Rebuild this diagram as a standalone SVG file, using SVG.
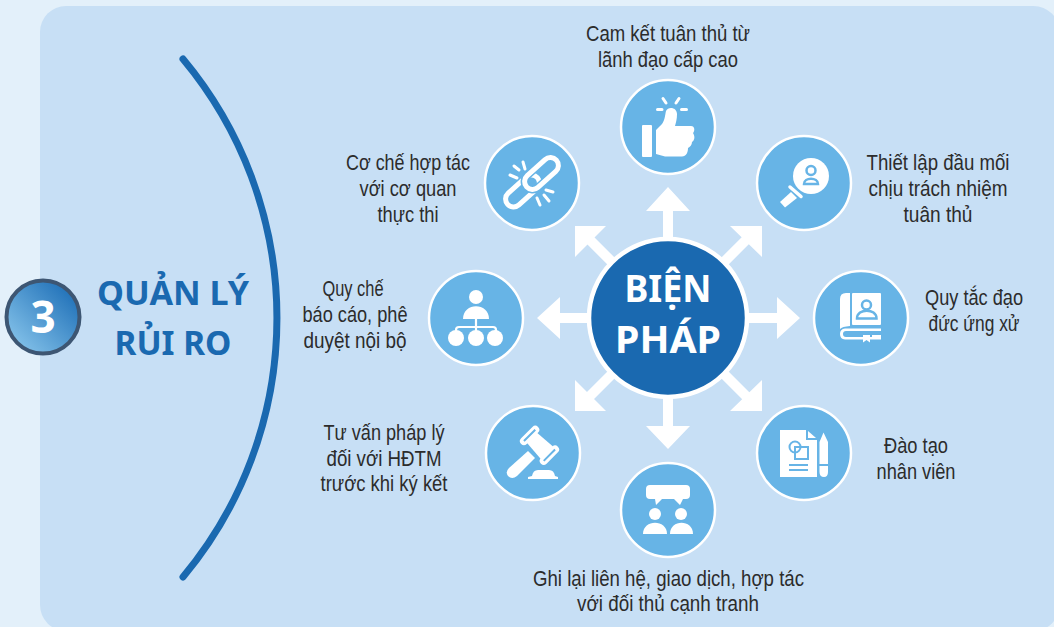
<svg xmlns="http://www.w3.org/2000/svg" width="1054" height="627" viewBox="0 0 1054 627">
<defs>
<linearGradient id="g3" x1="0" y1="1" x2="1" y2="0"><stop offset="0.1" stop-color="#85c3ea"/><stop offset="0.9" stop-color="#1e6fb7"/></linearGradient>
</defs>
<style>
.n{fill:#67b4e6;stroke:#fff;stroke-width:2.5}
.t{font-family:"Liberation Sans",sans-serif;font-size:21.500px;fill:#2c2c2c;text-anchor:middle}
.h{font-family:"Noto Sans","Open Sans",sans-serif;font-weight:700;text-anchor:middle}
.w{fill:#fff}
.ws{fill:none;stroke:#fff;stroke-linecap:round}
.bs{fill:none;stroke:#67b4e6}
.ar{fill:#fff}
.sh{stroke:#fff;stroke-width:10;fill:none}
</style>
<rect width="1054" height="627" fill="#e3f0fa"/>
<rect x="40" y="6" width="1019.500" height="625" rx="26" fill="#c7dff5"/>
<g id="title">
<path d="M183 59A404 404 0 0 1 183 577" fill="none" stroke="#1a69b0" stroke-width="7" stroke-linecap="round"/>
<circle cx="43" cy="317" r="36.500" fill="url(#g3)" stroke="#3d5673" stroke-width="4"/>
<text x="43" y="333" class="h" font-size="44" fill="#fff">3</text>
<text x="173" y="305" class="h" font-size="34" fill="#1a69b0" textLength="152" lengthAdjust="spacingAndGlyphs">QUẢN LÝ</text>
<text x="173" y="355" class="h" font-size="34" fill="#1a69b0" textLength="117" lengthAdjust="spacingAndGlyphs">RỦI RO</text>
</g>
<g id="connectors">
<path class="sh" d="M668 318V205M668 318V431M668 318H781M668 318H555M668 318L750 236M668 318L586 236M668 318L750 400M668 318L586 400"/>
<path class="ar" d="M668 187L690 211H646ZM668 449L690 426H646ZM800 318L777 297V339ZM537 318L560 297V339ZM762 226H730L762 257ZM575 226H606L575 257ZM762 411H730L762 380ZM575 411H606L575 380Z"/>
</g>
<g id="center">
<circle cx="668" cy="318" r="79" fill="#1a69b0" stroke="#fff" stroke-width="4.500"/>
<text x="668" y="302" class="h" font-size="38" fill="#fff" textLength="87" lengthAdjust="spacingAndGlyphs">BIỆN</text>
<text x="668" y="353" class="h" font-size="38" fill="#fff" textLength="106" lengthAdjust="spacingAndGlyphs">PHÁP</text>
</g>
<g id="node-top">
<circle class="n" cx="668" cy="127" r="47"/>
<rect class="w" x="642" y="125" width="10" height="32" rx="1"/>
<path class="w" d="M656 130L662 124C665 120 665 115 666 111C668 106 677 107 677 114C677 119 676 122 675 126L691 126C695 126 695 131 693 133C695 136 695 140 692 142C692 145 690 147 688 148C688 153 686 156 682 156.500L665 156.500L656 154Z"/>
<path class="ws" stroke-width="3" d="M663 98.500L666 103M679 98.500L676 103M657.500 109.500H662M681.500 109.500H686.500"/>
<text class="t" x="668" y="41" textLength="164" lengthAdjust="spacingAndGlyphs">Cam kết tuân thủ từ</text>
<text class="t" x="668" y="67" textLength="140" lengthAdjust="spacingAndGlyphs">lãnh đạo cấp cao</text>
</g>
<g id="node-top-right">
<circle class="n" cx="804" cy="183" r="47"/>
<circle class="w" cx="811" cy="176" r="18"/>
<circle class="bs" stroke-width="2.500" cx="811" cy="170.500" r="4.500"/>
<path class="bs" stroke-width="2.500" d="M804 184C804 177 818 177 818 184Z"/>
<path class="ws" stroke-width="3.500" d="M790 187L801 196.500"/>
<path class="w" d="M791 192L797 198L785 207.500L780 202Z"/>
<text class="t" x="938" y="170" textLength="143" lengthAdjust="spacingAndGlyphs">Thiết lập đầu mối</text>
<text class="t" x="938" y="196" textLength="139" lengthAdjust="spacingAndGlyphs">chịu trách nhiệm</text>
<text class="t" x="938" y="222" textLength="69" lengthAdjust="spacingAndGlyphs">tuân thủ</text>
</g>
<g id="node-right">
<circle class="n" cx="861" cy="318" r="47"/>
<path class="w" d="M850 293H846Q840 293 840 299V329Q842 326.500 850 326Z"/>
<rect class="w" x="852" y="293" width="29" height="32" rx="1"/>
<path class="w" d="M845 328.500H881V331H846Q843 331 843 334Q843 337 846 337H881V339.500H845Q840 339 840 334Q840 329 845 328.500Z"/>
<path class="w" d="M863 335H870V342.500L866.500 340L863 342.500Z"/>
<rect class="w" x="872" y="335" width="9" height="4"/>
<circle class="bs" stroke-width="2.500" cx="866.500" cy="305" r="4.500"/>
<path class="bs" stroke-width="2.500" d="M857 318.500C857 308 876.500 308 876.500 318.500Z"/>
<text class="t" x="974" y="305" textLength="98" lengthAdjust="spacingAndGlyphs">Quy tắc đạo</text>
<text class="t" x="974" y="331" textLength="91" lengthAdjust="spacingAndGlyphs">đức ứng xử</text>
</g>
<g id="node-bottom-right">
<circle class="n" cx="804" cy="453" r="47"/>
<path class="w" d="M780 430H806V440H817V477H780Z"/>
<path class="w" d="M808 431L816 438H808Z"/>
<path class="w" d="M819.500 477V442L823.500 432.500L828 442V472Q828 477 824 477Q819.500 477 819.500 472Z"/>
<circle class="bs" stroke-width="2" cx="795" cy="447" r="5.500"/>
<rect class="bs" stroke-width="2" x="795" y="447" width="13" height="12"/>
<path class="bs" stroke-width="2" d="M789 465H808M789 470H808M819 465H829"/>
<text class="t" x="916" y="453" textLength="64" lengthAdjust="spacingAndGlyphs">Đào tạo</text>
<text class="t" x="916" y="479" textLength="79" lengthAdjust="spacingAndGlyphs">nhân viên</text>
</g>
<g id="node-bottom">
<circle class="n" cx="668" cy="510" r="47"/>
<path class="w" d="M650 485H686Q690 485 690 489V495Q690 499 686 499H683L680 505L674 499H662L656 505L655 499H650Q646 499 646 495V489Q646 485 650 485Z"/>
<circle class="w" cx="655" cy="514" r="6"/>
<circle class="w" cx="681" cy="514" r="6"/>
<path class="w" d="M643 534C643 519 667 519 667 534Z"/>
<path class="w" d="M670 534C670 519 693 519 693 534Z"/>
<text class="t" x="668.500" y="586" textLength="271" lengthAdjust="spacingAndGlyphs">Ghi lại liên hệ, giao dịch, hợp tác</text>
<text class="t" x="668" y="611" textLength="182" lengthAdjust="spacingAndGlyphs">với đối thủ cạnh tranh</text>
</g>
<g id="node-bottom-left">
<circle class="n" cx="533" cy="453" r="47"/>
<g transform="translate(539.500 445.300) rotate(45)">
<path class="w" d="M-13 -7L13 -9V9L-13 7Z"/>
<rect x="-18" y="-12" width="8" height="24" rx="4" fill="#fff"/>
<rect x="10" y="-12" width="8" height="24" rx="4" fill="#fff"/>
<path class="bs" stroke-width="2" d="M-14 -8V8M14 -8V8"/>
</g>
<path class="w" d="M528 451L535 458L517 476Q512 480 508 476Q505 472 509 468Z"/>
<path class="w" d="M528 479V477L532 476Q533 470 538 470H549Q554 470 555 476L558 477V479Z"/>
<text class="t" x="384" y="440" textLength="121" lengthAdjust="spacingAndGlyphs">Tư vấn pháp lý</text>
<text class="t" x="384" y="466" textLength="115" lengthAdjust="spacingAndGlyphs">đối với HĐTM</text>
<text class="t" x="384" y="491" textLength="127" lengthAdjust="spacingAndGlyphs">trước khi ký kết</text>
</g>
<g id="node-left">
<circle class="n" cx="476" cy="318" r="47"/>
<circle class="w" cx="476" cy="297" r="7"/>
<path class="w" d="M463 319C463 302 489 302 489 319Z"/>
<path class="ws" stroke-width="2.200" d="M476 319V335M456 335V330Q456 327 459 327H493Q496 327 496 330V335"/>
<circle class="w" cx="456" cy="338" r="8"/>
<circle class="w" cx="476" cy="338" r="8"/>
<circle class="w" cx="495" cy="338" r="8"/>
<text class="t" x="353" y="296" textLength="61" lengthAdjust="spacingAndGlyphs">Quy chế</text>
<text class="t" x="355" y="322" textLength="105" lengthAdjust="spacingAndGlyphs">báo cáo, phê</text>
<text class="t" x="355" y="348" textLength="103" lengthAdjust="spacingAndGlyphs">duyệt nội bộ</text>
</g>
<g id="node-top-left">
<circle class="n" cx="532" cy="183" r="47"/>
<rect x="-20" y="-8" width="40" height="16" rx="8" fill="none" stroke="#fff" stroke-width="5" transform="translate(522.500 191) rotate(-42)"/>
<rect x="-20" y="-8" width="40" height="16" rx="8" fill="none" stroke="#67b4e6" stroke-width="8" transform="translate(541.500 173.500) rotate(-42)"/>
<rect x="-20" y="-8" width="40" height="16" rx="8" fill="none" stroke="#fff" stroke-width="5" transform="translate(541.500 173.500) rotate(-42)"/>
<path class="ws" stroke-width="3" d="M514 166L519 170M523 162L525 169M510 175L517 178M546 190L553 192M544 195L549 201M537 198L540 205"/>
<text class="t" x="408" y="170" textLength="124" lengthAdjust="spacingAndGlyphs">Cơ chế hợp tác</text>
<text class="t" x="408" y="196" textLength="97" lengthAdjust="spacingAndGlyphs">với cơ quan</text>
<text class="t" x="408" y="222" textLength="61" lengthAdjust="spacingAndGlyphs">thực thi</text>
</g>
</svg>
